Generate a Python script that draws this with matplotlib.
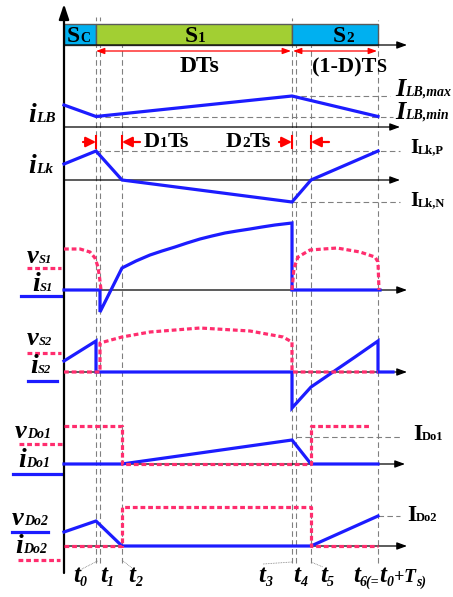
import matplotlib
matplotlib.use("Agg")
import matplotlib.pyplot as plt

# switching instants (time units, 0 = vertical axis)
t0, t1, t2, t3, t4, t5, t6 = 32, 36, 58, 228, 232, 247, 314

# boost inductor current iLB
ilb_t = [0, t0, t3, t6]
ilb_v = [22, 10.5, 31, 10.5]

# leakage inductor current iLk
ilk_t = [0, t0, t2, t3, t5, t6]
ilk_v = [16, 29, 0, -22, 0, 29]

# switch S1 current / voltage
is1_t = [0, t1, t1, t2, 72, 86, 98, 111, 123, 136, 148, 161, 173, 186, 198, 211, t3, t3, 316]
is1_v = [0, 0, -22, 22, 29, 35, 39, 43, 47, 51, 54, 57, 59, 61, 63, 65, 67, 0, 0]
vs1a_t = [0, 16, 26, 31, 34, 36, 37]
vs1a_v = [41, 41, 38, 32, 23, 9, 0]
vs1b_t = [t3, 230, 234, 246, 273, 296, 311, t6, 315]
vs1b_v = [0, 22, 33, 40, 42, 38, 33, 28, 0]

# switch S2 current / voltage
is2_t = [0, t0, t0, t3, t3, t5, 269, 291, t6, t6, 329]
is2_v = [11, 31, 0, 0, -36, -15, 0, 15, 31, 0, 0]
vs2_t = [0, t0, t1, t1, t2, 86, 136, 186, 219, t3, t3, t6]
vs2_v = [0, 0, 0, 29, 35, 40, 44, 41, 35, 30, 0, 0]

# output diode Do1
ido1_t = [0, t2, t3, t5, t6]
ido1_v = [0, 0, 24, 0, 0]
vdo1_t = [0, t2, t2, t5, t5, 307]
vdo1_v = [38, 38, 0, 0, 38, 38]

# output diode Do2
ido2_t = [0, t0, t2, t5, t6]
ido2_v = [14, 25, 0, 0, 30]
vdo2_t = [0, t2, t2, t5, t5, t6]
vdo2_v = [0, 0, 39, 39, 0, 0]

# gate intervals
seg_left = [0, t0, t3]
seg_width = [t0, t3 - t0, t6 - t3]
seg_color = ['#00b0f0', '#a2cf33', '#00b0f0']

BLUE = '#1c1cff'
PINK = '#ff2d6e'
RED = '#ff0000'
GRAY = '#808080'
FONT = 'Liberation Serif'

# channel baselines
Y_BAR, Y_LB, Y_LK, Y_S1, Y_S2, Y_DO1, Y_DO2 = 552, 470, 417, 307, 225, 133, 51

fig = plt.figure(figsize=(4.53, 5.97), dpi=100)
ax = fig.add_axes([0, 0, 1, 1])
ax.set_xlim(-64, 389)
ax.set_ylim(0, 597)
ax.axis('off')


def rich(x, y, parts, color='black'):
    # chain of text pieces: (text, size, italic, drop in px)
    prev = None
    for s, size, italic, dy in parts:
        kw = dict(fontsize=size, fontweight='bold', family=FONT, color=color,
                  fontstyle='italic' if italic else 'normal',
                  va='baseline', ha='left', zorder=6)
        if prev is None:
            prev = ax.text(x, y, s, **kw)
        else:
            prev = ax.annotate(s, xy=(1, y), xycoords=(prev, 'data'),
                               xytext=(0, -dy), textcoords='offset pixels', **kw)
    return prev


def h_axis(y, end):
    ax.annotate('', xy=(end, y), xytext=(0, y),
                arrowprops=dict(arrowstyle='-|>,head_length=0.6,head_width=0.22',
                                color='black', lw=0.9, shrinkA=0, shrinkB=0), zorder=2)


def gdash(x, y, **kw):
    ax.plot(x, y, color=GRAY, lw=0.8, ls=(0, (5, 3)), zorder=1, **kw)


def wave(t, v, base, style):
    y = [base + a for a in v]
    if style == 'i':
        ax.plot(t, y, color=BLUE, lw=2.3, zorder=4, solid_joinstyle='miter')
    else:
        ax.plot(t, y, color=PINK, lw=2.3, ls=(0, (1.5, 0.9)), zorder=5)


# vertical dashed guides
for tx, top in [(t0, 580), (t1, 580), (t2, 575), (t3, 579), (t4, Y_BAR), (t5, Y_BAR), (t6, 577)]:
    gdash([tx, tx], [34, top])

# leader lines to time labels
for xa, ya, xb, yb in [(t0 + 1.5, 36, 16, 27), (t2, 37, 68, 29), (t3, 35, 199, 33), (t5, 35, 259, 30)]:
    ax.plot([xa, xb], [ya, yb], color=GRAY, lw=0.6, ls=(0, (1, 1)), zorder=1)

# gate bar
ax.barh(Y_BAR + 10.5, seg_width, left=seg_left, height=21, color=seg_color,
        edgecolor='#5a5a5a', linewidth=1, zorder=2)

# main axis
ax.annotate('', xy=(0, 593), xytext=(0, 24),
            arrowprops=dict(arrowstyle='-|>,head_length=0.9,head_width=0.3',
                            color='black', lw=1.6, shrinkA=0, shrinkB=0), zorder=3)
for yb, end in [(Y_BAR, 343), (Y_LB, 336), (Y_LK, 336), (Y_S1, 343),
                (Y_S2, 343), (Y_DO1, 341), (Y_DO2, 343)]:
    h_axis(yb, end)

# level markers
gdash([t3, 326], [Y_LB + 31] * 2)
gdash([t0, 329], [Y_LB + 10.5] * 2)
gdash([t0, 336], [Y_LK + 29] * 2)
gdash([t3, 336], [Y_LK - 22] * 2)
gdash([t4, 336], [Y_DO1 + 27] * 2)
gdash([t6, 336], [Y_DO2 + 30] * 2)

# waveforms
wave(ilb_t, ilb_v, Y_LB, 'i')
wave(ilk_t, ilk_v, Y_LK, 'i')
wave(is1_t, is1_v, Y_S1, 'i')
wave(vs1a_t, vs1a_v, Y_S1, 'v')
wave(vs1b_t, vs1b_v, Y_S1, 'v')
wave(is2_t, is2_v, Y_S2, 'i')
wave(vs2_t, vs2_v, Y_S2, 'v')
wave(ido1_t, ido1_v, Y_DO1, 'i')
wave(vdo1_t, vdo1_v, Y_DO1, 'v')
wave(ido2_t, ido2_v, Y_DO2, 'i')
wave(vdo2_t, vdo2_v, Y_DO2, 'v')

# interval arrows
for a, b in [(t0, t3 - 1), (t3 + 1, t6 - 1)]:
    ax.annotate('', xy=(b, 546), xytext=(a, 546),
                arrowprops=dict(arrowstyle='<|-|>,head_length=0.5,head_width=0.18',
                                color=RED, lw=0.9, shrinkA=0, shrinkB=0), zorder=3)
for tip, tail in [(t0, t0 - 13), (t2, t2 + 18), (t3, t3 - 13), (t5, t5 + 18)]:
    ax.annotate('', xy=(tip, 455), xytext=(tail, 455),
                arrowprops=dict(arrowstyle='-|>,head_length=0.6,head_width=0.3',
                                color=RED, lw=1.6, shrinkA=0, shrinkB=0), zorder=3)
    ax.plot([tip, tip], [449, 461], color=RED, lw=1.5, zorder=3)

# bar captions
rich(3, 555, [('S', 17, False, 0), ('C', 10, False, 0)])
rich(121, 555, [('S', 17, False, 0), ('1', 11, False, 0)])
rich(269, 555, [('S', 17, False, 0), ('2', 11, False, 0)])
rich(116, 525, [('DTs', 17, False, 0)])
rich(248, 525, [('(1-D)T', 16, False, 0), ('S', 13, False, 0)])
rich(80, 450, [('D', 16, False, 0), ('1', 11, False, 0), ('Ts', 16, False, 0)])
rich(162, 450, [('D', 16, False, 0), ('2', 11, False, 0), ('Ts', 16, False, 0)])

# right-hand level labels
rich(331, 501, [('I', 19, True, 0), ('LB,max', 10, True, 0)])
rich(331, 478, [('I', 19, True, 0), ('LB,min', 10, True, 0)])
rich(346, 444, [('I', 15, False, 0), ('Lk,P', 9, False, 0)])
rich(346, 391, [('I', 15, False, 0), ('Lk,N', 9, False, 0)])
rich(349, 157, [('I', 17, False, 0), ('Do1', 9, False, 0)])
rich(343, 76, [('I', 17, False, 0), ('Do2', 9, False, 0)])

# left channel labels
rich(-36, 475, [('i', 20, True, 0), ('LB', 11, True, 0)])
rich(-36, 424, [('i', 20, True, 0), ('Lk', 11, True, 0)])
rich(-37, 334, [('v', 19, True, 0), ('S1', 9, True, 0)])
rich(-32, 306, [('i', 20, True, 0), ('S1', 9, True, 0)])
rich(-37, 252, [('v', 19, True, 0), ('S2', 9, True, 0)])
rich(-34, 224, [('i', 20, True, 0), ('S2', 9, True, 0)])
rich(-49, 159, [('v', 19, True, 0), ('Do1', 10, True, 0)])
rich(-46, 130, [('i', 20, True, 0), ('Do1', 10, True, 0)])
rich(-52, 72, [('v', 19, True, 0), ('Do2', 10, True, 0)])
rich(-49, 44, [('i', 20, True, 0), ('Do2', 10, True, 0)])

# legend strokes under the labels
for x0, x1, y, kind in [(-37, -3, 329, 'v'), (-43, -3, 301, 'i'),
                        (-37, -3, 244, 'v'), (-36, -7, 216, 'i'),
                        (-45, -2, 153, 'v'), (-51, -2, 123, 'i'),
                        (-52, -16, 65, 'i'), (-46, -4, 37, 'v')]:
    if kind == 'i':
        ax.plot([x0, x1], [y, y], color=BLUE, lw=2.3)
    else:
        ax.plot([x0, x1], [y, y], color=PINK, lw=2.3, ls=(0, (1.5, 0.9)))

# time labels
for x, n in [(9, '0'), (36, '1'), (64, '2'), (194, '3'), (229, '4'), (256, '5')]:
    rich(x, 15, [('t', 18, True, 0), (n, 10, True, 4)])
rich(289, 15, [('t', 18, True, 0), ('6(=', 10, True, 4), ('t', 18, True, 0),
               ('0', 10, True, 4), ('+', 13, True, 0), ('T', 14, True, 0),
               ('s)', 10, True, 4)])

fig.savefig('out.png', dpi=100)
